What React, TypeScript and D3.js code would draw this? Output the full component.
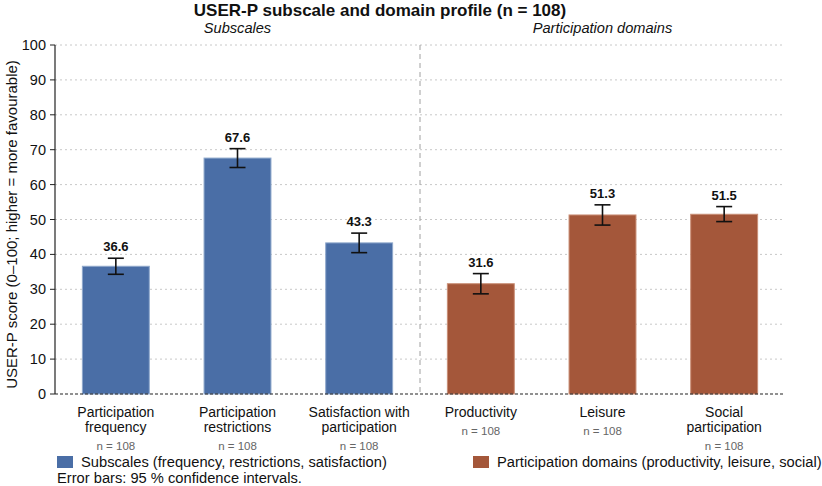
import * as d3 from 'd3';
import React from 'react';

const categories = [
  ["Participation", "frequency"],
  ["Participation", "restrictions"],
  ["Satisfaction with", "participation"],
  ["Productivity"],
  ["Leisure"],
  ["Social", "participation"],
];
const groups = ["sub", "sub", "sub", "dom", "dom", "dom"];
const means = [36.6, 67.6, 43.3, 31.6, 51.3, 51.5];
const ciLow = [34.3, 64.9, 40.5, 28.7, 48.4, 49.4];
const ciHigh = [38.9, 70.3, 46.1, 34.5, 54.2, 53.7];
const nValues = [108, 108, 108, 108, 108, 108];
const yTicks = [0, 10, 20, 30, 40, 50, 60, 70, 80, 90, 100];

const COLORS: Record<string, string> = { sub: "#4a6ea6", dom: "#a4573a" };
const STROKES: Record<string, string> = { sub: "#8fa8cc", dom: "#c98e76" };
const FONT = "Liberation Sans, Arial, sans-serif";

const W = 822;
const H = 486;
const margin = { top: 45, right: 37, bottom: 92, left: 55 };

const App: React.FC = () => {
  const innerW = W - margin.left - margin.right;
  const innerH = H - margin.top - margin.bottom;

  const x = d3.scaleBand<number>()
    .domain(d3.range(categories.length))
    .range([0, innerW])
    .paddingInner(0.45)
    .paddingOuter(0.225);

  const y = d3.scaleLinear().domain([0, 100]).range([innerH, 0]);

  const step = x.step();
  const dividerX = x(3)! - (step - x.bandwidth()) / 2;

  return (
    <svg width={W} height={H} style={{ position: "absolute", left: 0, top: 0, fontFamily: FONT }}>
      <rect width={W} height={H} fill="white" />
      <text x={380} y={15.6} textAnchor="middle" fontSize={17} fontWeight="bold" fill="#111">
        USER-P subscale and domain profile (n = 108)
      </text>
      <g transform={`translate(${margin.left},${margin.top})`}>
        {/* gridlines */}
        {yTicks.filter(t => t > 0).map(t => (
          <line key={t} x1={0} x2={innerW} y1={y(t)} y2={y(t)}
            stroke="#c8c8c8" strokeWidth={1} strokeDasharray="2,3" />
        ))}

        {/* group headers */}
        <text x={x(1)! + x.bandwidth() / 2} y={-12} textAnchor="middle" fontSize={14.6} fontStyle="italic" fill="#111">
          Subscales
        </text>
        <text x={x(4)! + x.bandwidth() / 2} y={-12} textAnchor="middle" fontSize={14.6} fontStyle="italic" fill="#111">
          Participation domains
        </text>

        {/* divider */}
        <line x1={dividerX} x2={dividerX} y1={0} y2={innerH}
          stroke="#a0a0a0" strokeWidth={1} strokeDasharray="5,4" />

        {/* bars */}
        {means.map((m, i) => (
          <rect key={i} x={x(i)!} y={y(m)} width={x.bandwidth()} height={innerH - y(m)}
            fill={COLORS[groups[i]]} stroke={STROKES[groups[i]]} strokeWidth={1} />
        ))}

        {/* error bars */}
        {means.map((_, i) => {
          const cx = x(i)! + x.bandwidth() / 2;
          return (
            <g key={i} stroke="#111" strokeWidth={1.6}>
              <line x1={cx} x2={cx} y1={y(ciLow[i])} y2={y(ciHigh[i])} />
              <line x1={cx - 8} x2={cx + 8} y1={y(ciLow[i])} y2={y(ciLow[i])} />
              <line x1={cx - 8} x2={cx + 8} y1={y(ciHigh[i])} y2={y(ciHigh[i])} />
            </g>
          );
        })}

        {/* value labels */}
        {means.map((m, i) => (
          <text key={i} x={x(i)! + x.bandwidth() / 2} y={y(ciHigh[i]) - 7} textAnchor="middle"
            fontSize={13} fontWeight="bold" fill="#111">
            {m.toFixed(1)}
          </text>
        ))}

        {/* baseline */}
        <line x1={0} x2={innerW} y1={innerH} y2={innerH} stroke="#222" strokeWidth={1.2} strokeDasharray="3,2" />

        {/* y axis */}
        <line x1={0} x2={0} y1={0} y2={innerH} stroke="#222" strokeWidth={1.2} />
        {yTicks.map(t => (
          <g key={t} transform={`translate(0,${y(t)})`}>
            <line x1={-5} x2={0} stroke="#222" strokeWidth={1} />
            <text x={-9} dy="0.35em" textAnchor="end" fontSize={14.5} fill="#111">{t}</text>
          </g>
        ))}
        <text transform={`translate(${-43},${innerH / 2 + 5}) rotate(-90)`} textAnchor="middle"
          fontSize={15} fill="#111" dy="0.35em">
          USER-P score (0–100; higher = more favourable)
        </text>

        {/* category labels */}
        {categories.map((lines, i) => {
          const cx = x(i)! + x.bandwidth() / 2;
          return (
            <g key={i}>
              {lines.map((ln, j) => (
                <text key={j} x={cx} y={innerH + 18 + j * 15} dy="0.35em" textAnchor="middle" fontSize={14} fill="#111">
                  {ln}
                </text>
              ))}
              <text x={cx} y={innerH + 18 + (lines.length - 1) * 15 + 19} dy="0.35em" textAnchor="middle"
                fontSize={11.5} fill="#666">
                n = {nValues[i]}
              </text>
            </g>
          );
        })}
      </g>

      {/* legend */}
      <rect x={57} y={456} width={16} height={12} fill={COLORS.sub} />
      <text x={81} y={462} dy="0.35em" fontSize={14.7} fill="#111">
        Subscales (frequency, restrictions, satisfaction)
      </text>
      <rect x={473} y={456} width={16} height={12} fill={COLORS.dom} />
      <text x={497} y={462} dy="0.35em" fontSize={14.7} fill="#111">
        Participation domains (productivity, leisure, social)
      </text>
      <text x={57} y={478} dy="0.35em" fontSize={14.7} fill="#111">
        Error bars: 95 % confidence intervals.
      </text>
    </svg>
  );
};

export default App;
